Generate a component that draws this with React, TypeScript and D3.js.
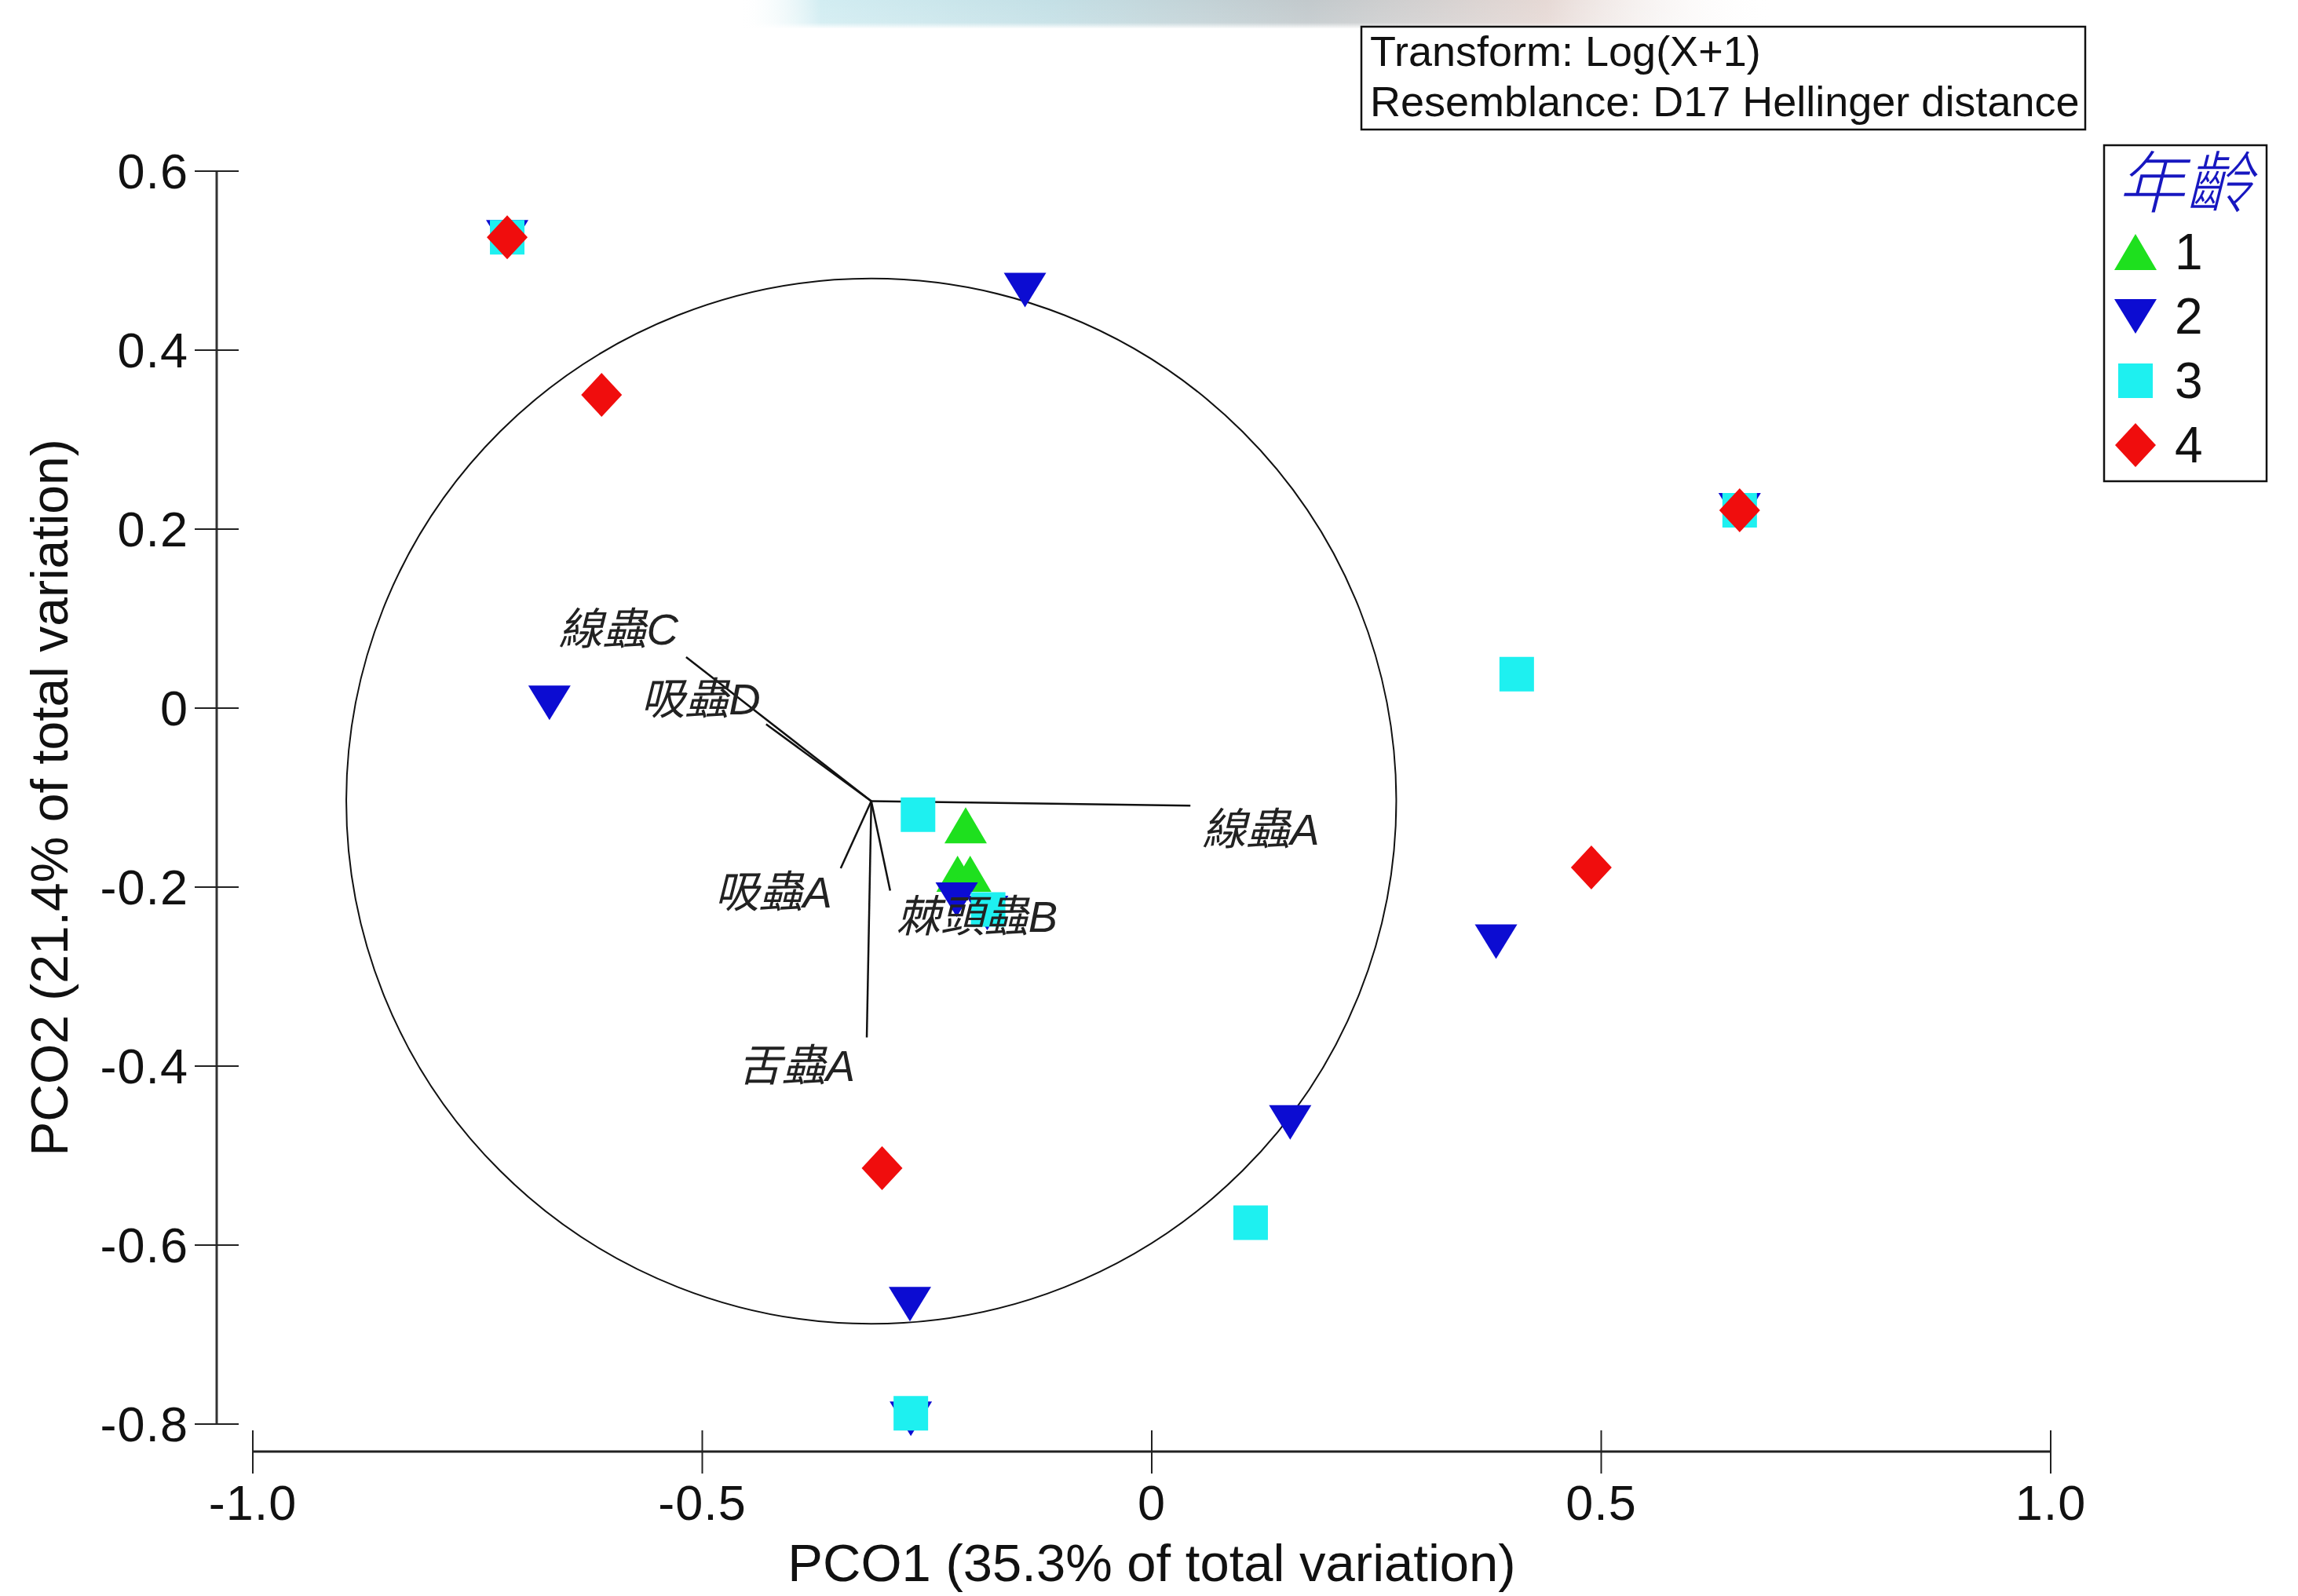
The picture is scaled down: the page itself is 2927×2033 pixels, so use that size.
import React from "react";
import * as d3 from "d3";

const W = 2927;
const H = 2033;

// axis ticks
const xTicks = [-1, -0.5, 0, 0.5, 1];
const xTickLabels = ["-1.0", "-0.5", "0", "0.5", "1.0"];
const yTicks = [0.6, 0.4, 0.2, 0, -0.2, -0.4, -0.6, -0.8];
const yTickLabels = ["0.6", "0.4", "0.2", "0", "-0.2", "-0.4", "-0.6", "-0.8"];

// samples by age group, [PCO1, PCO2]
const ageGroups = ["1", "2", "3", "4"];
const age1 = [
  [-0.207, -0.131],
  [-0.216, -0.185],
  [-0.202, -0.185],
];
const age2 = [
  [-0.717, 0.526],
  [-0.141, 0.467],
  [-0.67, 0.006],
  [-0.217, -0.214],
  [-0.183, -0.229],
  [0.383, -0.261],
  [0.154, -0.463],
  [-0.269, -0.666],
  [-0.268, -0.794],
  [0.654, 0.221],
];
const age3 = [
  [-0.717, 0.526],
  [-0.26, -0.119],
  [-0.182, -0.225],
  [0.406, 0.038],
  [0.11, -0.575],
  [-0.268, -0.788],
  [0.654, 0.221],
];
const age4 = [
  [-0.717, 0.526],
  [-0.612, 0.35],
  [0.489, -0.178],
  [-0.3, -0.514],
  [0.654, 0.221],
];

// vector overlay
const vectorNames = ["線蟲A", "線蟲C", "吸蟲D", "吸蟲A", "棘頭蟲B", "舌蟲A"];
const vectorX = [0.043, -0.518, -0.429, -0.346, -0.291, -0.317];
const vectorY = [-0.109, 0.057, -0.018, -0.179, -0.204, -0.368];
const vectorOrigin = [-0.312, -0.104];
const circleRadius = 0.584;

// label placement next to vector tips (px)
const labelOffsets: [number, number, string][] = [
  [15, 50, "start"],
  [-10, -16, "end"],
  [-7, -13, "end"],
  [-11, 50, "end"],
  [8, 52, "start"],
  [-15, 55, "end"],
];

const groupData = [age1, age2, age3, age4];
const groupColors = ["#1ee01e", "#0c0cd2", "#1ef0f0", "#f00d0d"];
const groupShapes = ["up", "down", "square", "diamond"];

const latin = "'Liberation Sans', Arial, sans-serif";
const cjk = "'Liberation Sans', 'Noto Sans CJK TC', sans-serif";

function markerPath(kind: string, cx: number, cy: number) {
  if (kind === "up")
    return `M${cx},${cy - 23}L${cx + 27},${cy + 23}L${cx - 27},${cy + 23}Z`;
  if (kind === "down")
    return `M${cx - 27},${cy - 22}L${cx + 27},${cy - 22}L${cx},${cy + 22}Z`;
  if (kind === "square")
    return `M${cx - 22},${cy - 22}H${cx + 22}V${cy + 22}H${cx - 22}Z`;
  return `M${cx},${cy - 28}L${cx + 26},${cy}L${cx},${cy + 28}L${cx - 26},${cy}Z`;
}

export default function App() {
  const x = d3.scaleLinear().domain([-1, 1]).range([322, 2612]);
  const y = d3.scaleLinear().domain([-0.8, 0.6]).range([1814, 218]);

  const yAxisX = 276;
  const xAxisY = 1849;

  const ox = x(vectorOrigin[0]);
  const oy = y(vectorOrigin[1]);
  const rx = x(circleRadius) - x(0);
  const ry = y(0) - y(circleRadius);

  const legendY = [321, 403, 485, 567];

  return (
    <svg
      width={W}
      height={H}
      style={{ position: "absolute", left: 0, top: 0, background: "#fff" }}
    >
      <defs>
        <linearGradient id="topGlow" x1="0" x2="1" y1="0" y2="0">
          <stop offset="0" stopColor="#ffffff" stopOpacity="0" />
          <stop offset="0.08" stopColor="#d2edf2" />
          <stop offset="0.3" stopColor="#c4e0e6" />
          <stop offset="0.55" stopColor="#c2c9cc" />
          <stop offset="0.78" stopColor="#e6d9d5" />
          <stop offset="1" stopColor="#ffffff" stopOpacity="0" />
        </linearGradient>
        <linearGradient id="topFade" x1="0" x2="0" y1="0" y2="1">
          <stop offset="0" stopColor="#ffffff" stopOpacity="0" />
          <stop offset="0.8" stopColor="#ffffff" stopOpacity="0.1" />
          <stop offset="1" stopColor="#ffffff" stopOpacity="0.9" />
        </linearGradient>
      </defs>
      <rect x={0} y={0} width={W} height={H} fill="#fff" />
      <rect x={940} y={0} width={1320} height={36} fill="url(#topGlow)" />
      <rect x={940} y={0} width={1320} height={36} fill="url(#topFade)" />

      {/* info box */}
      <rect x={1734} y={34} width={922} height={131} fill="#fff" stroke="#111" strokeWidth={2.5} />
      <text x={1745} y={84} fontFamily={latin} fontSize={54} fill="#111">
        Transform: Log(X+1)
      </text>
      <text x={1745} y={148} fontFamily={latin} fontSize={54} fill="#111">
        Resemblance: D17 Hellinger distance
      </text>

      {/* y axis */}
      <line x1={yAxisX} x2={yAxisX} y1={y(0.6)} y2={y(-0.8)} stroke="#333" strokeWidth={3} />
      {yTicks.map((t, i) => (
        <g key={"yt" + i}>
          <line x1={yAxisX - 28} x2={yAxisX + 28} y1={y(t)} y2={y(t)} stroke="#222" strokeWidth={2} />
          <text
            x={240}
            y={y(t) + 22}
            textAnchor="end"
            fontFamily={latin}
            fontSize={63}
            letterSpacing={1}
            fill="#111"
          >
            {yTickLabels[i]}
          </text>
        </g>
      ))}
      <text
        transform={`translate(86, ${(y(0.6) + y(-0.8)) / 2}) rotate(-90)`}
        textAnchor="middle"
        fontFamily={latin}
        fontSize={66}
        fill="#111"
      >
        PCO2 (21.4% of total variation)
      </text>

      {/* x axis */}
      <line x1={x(-1)} x2={x(1)} y1={xAxisY} y2={xAxisY} stroke="#222" strokeWidth={3} />
      {xTicks.map((t, i) => (
        <g key={"xt" + i}>
          <line x1={x(t)} x2={x(t)} y1={xAxisY - 27} y2={xAxisY + 28} stroke="#222" strokeWidth={2} />
          <text
            x={x(t)}
            y={1936}
            textAnchor="middle"
            fontFamily={latin}
            fontSize={63}
            letterSpacing={1}
            fill="#111"
          >
            {xTickLabels[i]}
          </text>
        </g>
      ))}
      <text x={x(0)} y={2014} textAnchor="middle" fontFamily={latin} fontSize={67} fill="#111">
        PCO1 (35.3% of total variation)
      </text>

      {/* correlation circle and vectors */}
      <ellipse cx={ox} cy={oy} rx={rx} ry={ry} fill="none" stroke="#111" strokeWidth={2} />
      {vectorNames.map((n, i) => (
        <line
          key={"v" + i}
          x1={ox}
          y1={oy}
          x2={x(vectorX[i])}
          y2={y(vectorY[i])}
          stroke="#111"
          strokeWidth={2.5}
        />
      ))}

      {/* samples */}
      {groupData.map((pts, g) => (
        <g key={"g" + g} fill={groupColors[g]}>
          {pts.map((p, j) => (
            <path key={j} d={markerPath(groupShapes[g], x(p[0]), y(p[1]))} />
          ))}
        </g>
      ))}

      {/* vector labels */}
      {vectorNames.map((n, i) => (
        <text
          key={"vl" + i}
          x={x(vectorX[i]) + labelOffsets[i][0]}
          y={y(vectorY[i]) + labelOffsets[i][1]}
          textAnchor={labelOffsets[i][2] as any}
          fontFamily={cjk}
          fontStyle="italic"
          fontSize={56}
          fill="#222"
        >
          {n}
        </text>
      ))}

      {/* legend */}
      <rect x={2680} y={185} width={207} height={428} fill="#fff" stroke="#111" strokeWidth={2.5} />
      <text
        x={2697}
        y={264}
        fontFamily="'Noto Sans CJK TC', sans-serif"
        fontStyle="italic"
        fontWeight={300}
        fontSize={86}
        fill="#1717c0"
      >
        年齡
      </text>
      {ageGroups.map((a, i) => (
        <g key={"lg" + i}>
          <path d={markerPath(groupShapes[i], 2720, legendY[i])} fill={groupColors[i]} />
          <text x={2770} y={legendY[i] + 22} fontFamily={latin} fontSize={64} fill="#111">
            {a}
          </text>
        </g>
      ))}
    </svg>
  );
}
